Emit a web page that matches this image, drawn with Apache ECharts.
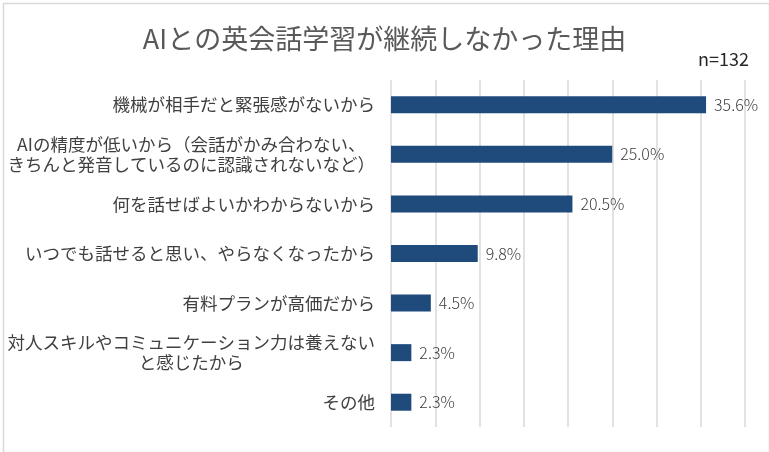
<!DOCTYPE html>
<html>
<head>
<meta charset="utf-8">
<script src="https://cdn.jsdelivr.net/npm/echarts@6/dist/echarts.min.js"></script>
<style>
html,body{margin:0;padding:0;background:#fff;}
#chart{width:769px;height:452px;}
</style>
</head>
<body>
<div id="chart"></div>
<script>
const categories = [
  '機械が相手だと緊張感がないから',
  'AIの精度が低いから（会話がかみ合わない、\nきちんと発音しているのに認識されないなど）',
  '何を話せばよいかわからないから',
  'いつでも話せると思い、やらなくなったから',
  '有料プランが高価だから',
  '対人スキルやコミュニケーション力は養えない\nと感じたから',
  'その他'
];
const values = [35.6, 25.0, 20.5, 9.8, 4.5, 2.3, 2.3];
const titleText = 'AIとの英会話学習が継続しなかった理由';
const sampleText = 'n=132';

const FONT = '"Noto Sans CJK JP", "Noto Sans", sans-serif';
const chart = echarts.init(document.getElementById('chart'));
chart.setOption({
  backgroundColor: '#fff',
  animation: false,
  title: [
    { text: titleText, left: 'center', top: 20,
      textStyle: { fontFamily: FONT, fontSize: 27, fontWeight: 'normal', color: '#595959' } },
    { text: sampleText, right: 15, top: 45,
      textStyle: { fontFamily: FONT, fontSize: 18, fontWeight: 'normal', color: '#262626' } }
  ],
  graphic: [{
    type: 'rect', left: 1, top: 1, silent: true,
    shape: { width: 766, height: 449 },
    style: { fill: 'none', stroke: '#d9d9d9', lineWidth: 1.5 }
  }],
  grid: { left: 391, right: 24, top: 80, bottom: 25, containLabel: false, outerBoundsMode: 'none' },
  xAxis: {
    type: 'value', min: 0, max: 40, interval: 5,
    axisLabel: { show: false }, axisLine: { show: false }, axisTick: { show: false },
    splitLine: { show: true, lineStyle: { color: '#d9d9d9', width: 1.5 } }
  },
  yAxis: {
    type: 'category', inverse: true, data: categories,
    axisLine: { show: false }, axisTick: { show: false },
    axisLabel: {
      margin: 16, align: 'right',
      formatter: function (v) { return v.split('\n').map(s => '{c|' + s + '}').join('\n'); },
      rich: { c: { align: 'center', fontFamily: FONT, fontSize: 17.5, color: '#404040', lineHeight: 20 } }
    }
  },
  series: [{
    type: 'bar', data: values, barWidth: 17,
    itemStyle: { color: '#1f4a7c' },
    label: {
      show: true, position: 'right', distance: 8,
      formatter: p => p.value.toFixed(1) + '%',
      fontFamily: FONT, fontSize: 16, fontWeight: 300, color: '#404040'
    }
  }]
});
</script>
</body>
</html>
